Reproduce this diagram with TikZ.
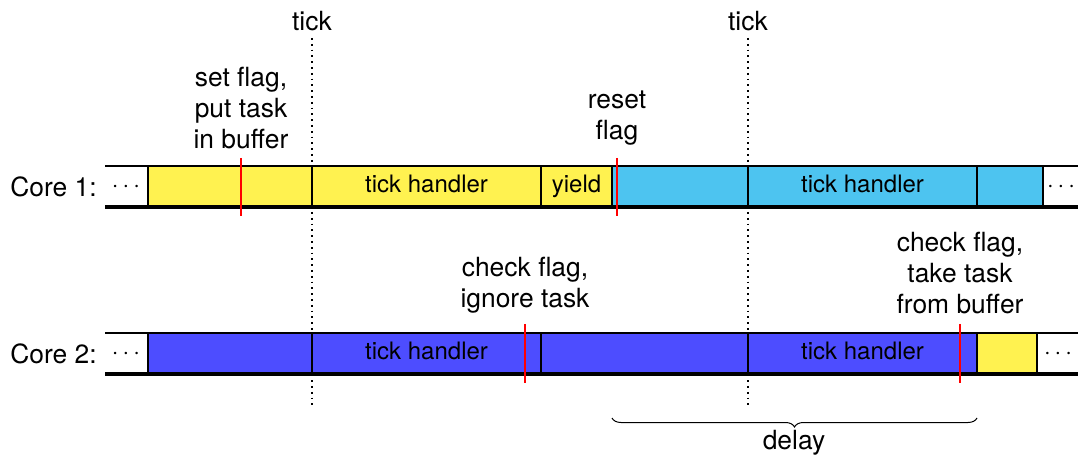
\documentclass[tikz,border=0pt]{standalone}
\usepackage{fontspec}
\setmainfont{TeX Gyre Heros}
\usetikzlibrary{fit,decorations.pathreplacing}
\definecolor{cyel}{RGB}{255,242,80}
\definecolor{clb}{RGB}{77,196,240}
\definecolor{cbl}{RGB}{77,77,255}
\begin{document}
\begin{tikzpicture}[x=0.5pt,y=-0.5pt,
  font=\fontsize{13.2}{15.6}\selectfont,
  seg/.style={draw=black, line width=0.6pt, inner sep=0pt},
  boxtxt/.style={font=\fontsize{12}{14}\selectfont, text height=8.6pt, text depth=2.6pt, inner sep=0pt},
  baseline/.style={draw=black, line width=2pt},
  topline/.style={draw=black, line width=0.6pt},
  redmark/.style={draw=red, line width=1pt},
  tickline/.style={draw=black, dotted, line width=0.9pt},
  lbl/.style={align=center, inner sep=0pt},
  dots/.style={inner sep=0pt}]
\useasboundingbox (0,0) rectangle (1078,460);

% ---------------- Core 1 ----------------
\node[anchor=east, inner sep=0pt] (core1) at (97,187) {Core 1:};
\node[dots] (d1l) at (126,187) {$\cdots$};
\node[dots] (d1r) at (1061,187) {$\cdots$};
\node[seg, fill=cyel, fit={(148,166)(312,207)}] (a1) {};
\node[seg, fill=cyel, fit={(312,166)(541,207)}, label={[boxtxt]center:tick handler}] (a2) {};
\node[seg, fill=cyel, fit={(541,166)(612,207)}, label={[boxtxt]center:yield}] (a3) {};
\node[seg, fill=clb, fit={(612,166)(748,207)}] (a4) {};
\node[seg, fill=clb, fit={(748,166)(977,207)}, label={[boxtxt]center:tick handler}] (a5) {};
\node[seg, fill=clb, fit={(977,166)(1043,207)}] (a6) {};
\coordinate (c1tl) at (105,166);
\coordinate (c1tr) at (1078,166);
\coordinate (c1bl) at (105,207);
\coordinate (c1br) at (1078,207);
\draw[topline] (c1tl) -- (c1tr);
\draw[baseline] (c1bl) -- (c1br);

% ---------------- Core 2 ----------------
\node[anchor=east, inner sep=0pt] (core2) at (97,354) {Core 2:};
\node[dots] (d2l) at (126,354) {$\cdots$};
\node[dots] (d2r) at (1058,354) {$\cdots$};
\node[seg, fill=cbl, fit={(148,333)(312,374)}] (b1) {};
\node[seg, fill=cbl, fit={(312,333)(541,374)}, label={[boxtxt]center:tick handler}] (b2) {};
\node[seg, fill=cbl, fit={(541,333)(748,374)}] (b3) {};
\node[seg, fill=cbl, fit={(748,333)(977,374)}, label={[boxtxt]center:tick handler}] (b4) {};
\node[seg, fill=cyel, fit={(977,333)(1037,374)}] (b5) {};
\coordinate (c2tl) at (105,333);
\coordinate (c2tr) at (1078,333);
\coordinate (c2bl) at (105,374);
\coordinate (c2br) at (1078,374);
\draw[topline] (c2tl) -- (c2tr);
\draw[baseline] (c2bl) -- (c2br);

% ---------------- ticks ----------------
\node[inner sep=0pt] (tk1) at (312,21) {tick};
\node[inner sep=0pt] (tk2) at (748,21) {tick};
\coordinate (t1top) at (312,38);
\coordinate (t1bot) at (312,408);
\coordinate (t2top) at (748,38);
\coordinate (t2bot) at (748,408);
\draw[tickline] (t1top) -- (t1bot);
\draw[tickline] (t2top) -- (t2bot);

% ---------------- red marks ----------------
\coordinate (r1a) at (241,158);
\coordinate (r1b) at (241,216);
\coordinate (r2a) at (617,158);
\coordinate (r2b) at (617,216);
\coordinate (r3a) at (525,324);
\coordinate (r3b) at (525,383);
\coordinate (r4a) at (960,324);
\coordinate (r4b) at (960,383);
\draw[redmark] (r1a) -- (r1b);
\draw[redmark] (r2a) -- (r2b);
\draw[redmark] (r3a) -- (r3b);
\draw[redmark] (r4a) -- (r4b);

% ---------------- labels ----------------
\node[lbl] (l1) at (241,108) {set flag,\\put task\\in buffer};
\node[lbl] (l2) at (617,118) {reset\\flag};
\node[lbl] (l3) at (525,285) {check flag,\\ignore task};
\node[lbl] (l4) at (960,273) {check flag,\\take task\\from buffer};

% ---------------- delay brace ----------------
\coordinate (brl) at (612,418);
\coordinate (brr) at (977,418);
\draw[decorate, decoration={brace, amplitude=4.5pt, mirror}, line width=0.5pt] (brl) -- (brr);
\node[inner sep=0pt] (delay) at (794,443) {delay};
\end{tikzpicture}
\end{document}
